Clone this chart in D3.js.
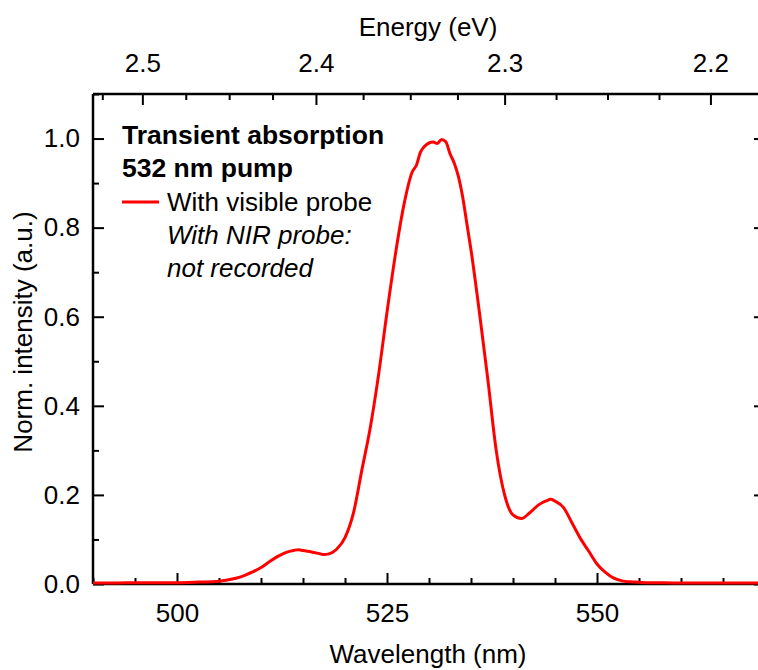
<!DOCTYPE html>
<html lang="en">
<head>
  <meta charset="UTF-8">
  <title>Transient absorption</title>
  <style type="text/css">
     body{ margin:0; background:#fff; }
     svg{ display:block; font-family:"Liberation Sans", Arial, sans-serif; }
  </style>
  <script src="https://d3js.org/d3.v7.min.js"></script>
</head>
<body>
  <svg></svg>
  <script>
    const W = 758, H = 670;
    const margin = {top:94, left:93, bottom:86, right:-7};
    const width = W - margin.left - margin.right;
    const height = H - margin.top - margin.bottom;

    // spectrum
    const wavelength = [490, 492, 494, 496, 498, 500, 502, 504, 505, 506, 507, 508, 509, 510,
      511, 512, 513, 514, 514.5, 515, 516, 517, 517.5, 518, 519, 520, 521, 522, 523, 524, 525, 526, 527,
      528, 528.5, 529, 529.5, 530, 530.5, 531, 531.5, 532, 532.5, 533, 533.5, 534, 534.5, 535,
      536, 537, 538, 539, 540, 541, 542, 543, 544, 544.5, 545, 546, 547, 548, 549, 550, 551, 552, 553,
      554, 555, 556, 558, 560, 562, 564, 566, 568, 570];
    const intensity = [0.002, 0.002, 0.003, 0.003, 0.003, 0.003, 0.004, 0.005, 0.006, 0.009, 0.013, 0.019, 0.027, 0.037,
      0.050, 0.062, 0.071, 0.076, 0.077, 0.075, 0.072, 0.068, 0.066, 0.067, 0.078, 0.104, 0.159, 0.255, 0.35, 0.47, 0.61, 0.74, 0.85,
      0.925, 0.94, 0.97, 0.983, 0.99, 0.992, 0.989, 0.998, 0.993, 0.966, 0.945, 0.915, 0.87, 0.81, 0.75,
      0.61, 0.46, 0.30, 0.20, 0.155, 0.147, 0.16, 0.177, 0.187, 0.19, 0.186, 0.172, 0.138, 0.103, 0.074, 0.045, 0.026, 0.013, 0.007,
      0.005, 0.004, 0.003, 0.003, 0.002, 0.002, 0.002, 0.002, 0.002, 0.002];

    const wlTicks = [500, 525, 550];
    const energyTicks = [2.5, 2.4, 2.3, 2.2];
    const yTicks = [0, 0.2, 0.4, 0.6, 0.8, 1.0];
    const legendTitle = ["Transient absorption", "532 nm pump"];
    const legendItems = ["With visible probe"];
    const legendNotes = ["With NIR probe:", "not recorded"];

    const svg = d3.select("svg").attr("width", W).attr("height", H);
    const g = svg.append("g").attr("transform", `translate(${margin.left},${margin.top})`);

    const x = d3.scaleLinear().domain([490, 570]).range([0, width]);
    const y = d3.scaleLinear().domain([0, 1.1]).range([height, 0]);
    const hc = 1239.84;

    const fs = 26, major = 11, minor = 6;

    const xMinor = d3.range(490, 571, 5).filter(v => !wlTicks.includes(v));
    const yMinor = d3.range(0, 1.11, 0.1).map(v => +v.toFixed(1)).filter(v => !yTicks.includes(v));

    // energy axis: minor ticks evenly spaced in pixels between majors
    const eMajor = [2.6].concat(energyTicks, [2.1]);
    const ePx = [];
    for (let i = 0; i < eMajor.length - 1; i++) {
      const a = x(hc / eMajor[i]), b = x(hc / eMajor[i + 1]);
      for (let k = 1; k < 4; k++) ePx.push(a + (b - a) * k / 4);
    }
    const ePxMinor = ePx.filter(p => p >= 0 && p <= width);

    function styleAxis(sel) {
      sel.select(".domain").remove();
      sel.selectAll("line").attr("stroke", "#000").attr("stroke-width", 2);
      sel.selectAll("text").attr("font-size", fs).attr("fill", "#000");
    }

    // bottom
    g.append("g").attr("transform", `translate(0,${height})`)
      .call(d3.axisBottom(x).tickValues(wlTicks).tickSize(-major).tickPadding(20).tickFormat(d3.format("d")))
      .call(styleAxis);
    g.append("g").attr("transform", `translate(0,${height})`)
      .call(d3.axisBottom(x).tickValues(xMinor).tickSize(-minor).tickFormat(""))
      .call(styleAxis);

    // top (energy)
    const eTop = g.append("g");
    eTop.selectAll("line.maj").data(energyTicks).enter().append("line")
      .attr("x1", d => x(hc / d)).attr("x2", d => x(hc / d))
      .attr("y1", 0).attr("y2", major).attr("stroke", "#000").attr("stroke-width", 2);
    eTop.selectAll("line.min").data(ePxMinor).enter().append("line")
      .attr("x1", d => d).attr("x2", d => d)
      .attr("y1", 0).attr("y2", minor).attr("stroke", "#000").attr("stroke-width", 2);
    eTop.selectAll("text").data(energyTicks).enter().append("text")
      .attr("x", d => x(hc / d)).attr("y", -22)
      .attr("text-anchor", "middle").attr("font-size", fs)
      .text(d => d3.format(".1f")(d));

    // left
    g.append("g")
      .call(d3.axisLeft(y).tickValues(yTicks).tickSize(-major).tickPadding(13).tickFormat(d3.format(".1f")))
      .call(styleAxis);
    g.append("g")
      .call(d3.axisLeft(y).tickValues(yMinor).tickSize(-minor).tickFormat(""))
      .call(styleAxis);

    // right
    g.append("g").attr("transform", `translate(${width},0)`)
      .call(d3.axisRight(y).tickValues(yTicks).tickSize(-major).tickFormat(""))
      .call(styleAxis);
    g.append("g").attr("transform", `translate(${width},0)`)
      .call(d3.axisRight(y).tickValues(yMinor).tickSize(-minor).tickFormat(""))
      .call(styleAxis);

    // frame lines
    g.append("line").attr("x1", 0).attr("x2", width).attr("y1", 0).attr("y2", 0)
      .attr("stroke", "#000").attr("stroke-width", 2.5);
    g.append("line").attr("x1", 0).attr("x2", width).attr("y1", height).attr("y2", height)
      .attr("stroke", "#000").attr("stroke-width", 2.5);
    g.append("line").attr("x1", 0).attr("x2", 0).attr("y1", 0).attr("y2", height)
      .attr("stroke", "#000").attr("stroke-width", 2.5);

    // curve
    const data = wavelength.map((w, i) => ({w: w, v: intensity[i]}));
    const line = d3.line().x(d => x(d.w)).y(d => y(d.v)).curve(d3.curveMonotoneX);
    g.append("path").datum(data).attr("d", line)
      .attr("fill", "none").attr("stroke", "#ff0000").attr("stroke-width", 3);

    // axis titles
    svg.append("text").attr("x", 428).attr("y", 36).attr("text-anchor", "middle")
      .attr("font-size", fs).text("Energy (eV)");
    svg.append("text").attr("x", 428).attr("y", 663).attr("text-anchor", "middle")
      .attr("font-size", fs).text("Wavelength (nm)");
    svg.append("text").attr("transform", `translate(32,332) rotate(-90)`)
      .attr("text-anchor", "middle").attr("font-size", fs).text("Norm. intensity (a.u.)");

    // legend
    const lg = svg.append("g");
    lg.selectAll("text.t").data(legendTitle).enter().append("text")
      .attr("x", 122).attr("y", (d, i) => 144 + i * 33)
      .attr("font-size", 26.5).attr("font-weight", "bold").text(d => d);
    lg.append("line").attr("x1", 122).attr("x2", 159).attr("y1", 202).attr("y2", 202)
      .attr("stroke", "#ff0000").attr("stroke-width", 3);
    lg.selectAll("text.i").data(legendItems).enter().append("text")
      .attr("x", 167).attr("y", 211).attr("font-size", fs).text(d => d);
    lg.selectAll("text.n").data(legendNotes).enter().append("text")
      .attr("x", 167).attr("y", (d, i) => 244 + i * 33)
      .attr("font-size", fs).attr("font-style", "italic").text(d => d);
  </script>
</body>
</html>
